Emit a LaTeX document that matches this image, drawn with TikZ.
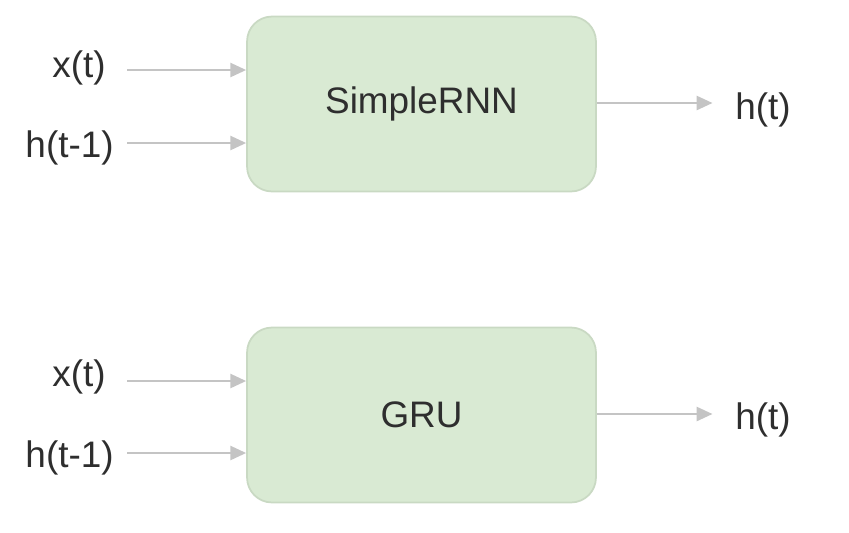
\documentclass[tikz,border=0pt]{standalone}
\usepackage{fontspec}
\setmainfont{Liberation Sans}
\usepackage{xcolor}
\definecolor{cellgreen}{HTML}{D9EAD3}
\definecolor{cellborder}{HTML}{C9D9C3}
\definecolor{wiregray}{HTML}{C4C4C4}
\definecolor{textgray}{HTML}{2E2E2E}
\usetikzlibrary{arrows.meta}

\begin{document}
\begin{tikzpicture}[x=0.02cm,y=-0.02cm,
    cell/.style={draw=cellborder,line width=1pt,fill=cellgreen,rounded corners=0.5cm,minimum width=6.98cm,minimum height=3.5cm,text=textgray,font=\fontsize{21}{25}\selectfont},
    lbl/.style={text=textgray,font=\fontsize{21}{25}\selectfont,inner sep=0pt},
    wire/.style={draw=wiregray,line width=1.3pt,-{Triangle[length=9pt,width=8pt]}}]
    \useasboundingbox (0,0) rectangle (849,532);
    % SimpleRNN cell
    \node[cell] (rnn) at (421.5,104) {SimpleRNN};
    \node[lbl,anchor=east] (rnnx) at (106,68) {x(t)};
    \node[lbl,anchor=east] (rnnh) at (114,148) {h(t-1)};
    \node[lbl,anchor=west] (rnnout) at (735,110) {h(t)};
    \coordinate (rnnxs) at (127,70);
    \coordinate (rnnhs) at (127,143);
    \draw[wire] (rnnxs) -- (rnnxs -| rnn.west);
    \draw[wire] (rnnhs) -- (rnnhs -| rnn.west);
    \draw[wire] (rnn.east |- 0,103) -- ([xshift=-0.45cm]rnnout.west |- 0,103);
    % GRU cell
    \node[cell] (gru) at (421.5,415) {GRU};
    \node[lbl,anchor=east] (grux) at (106,377) {x(t)};
    \node[lbl,anchor=east] (gruh) at (114,458) {h(t-1)};
    \node[lbl,anchor=west] (gruout) at (735,420) {h(t)};
    \coordinate (gruxs) at (127,381);
    \coordinate (gruhs) at (127,453);
    \draw[wire] (gruxs) -- (gruxs -| gru.west);
    \draw[wire] (gruhs) -- (gruhs -| gru.west);
    \draw[wire] (gru.east |- 0,414) -- ([xshift=-0.45cm]gruout.west |- 0,414);
\end{tikzpicture}
\end{document}
